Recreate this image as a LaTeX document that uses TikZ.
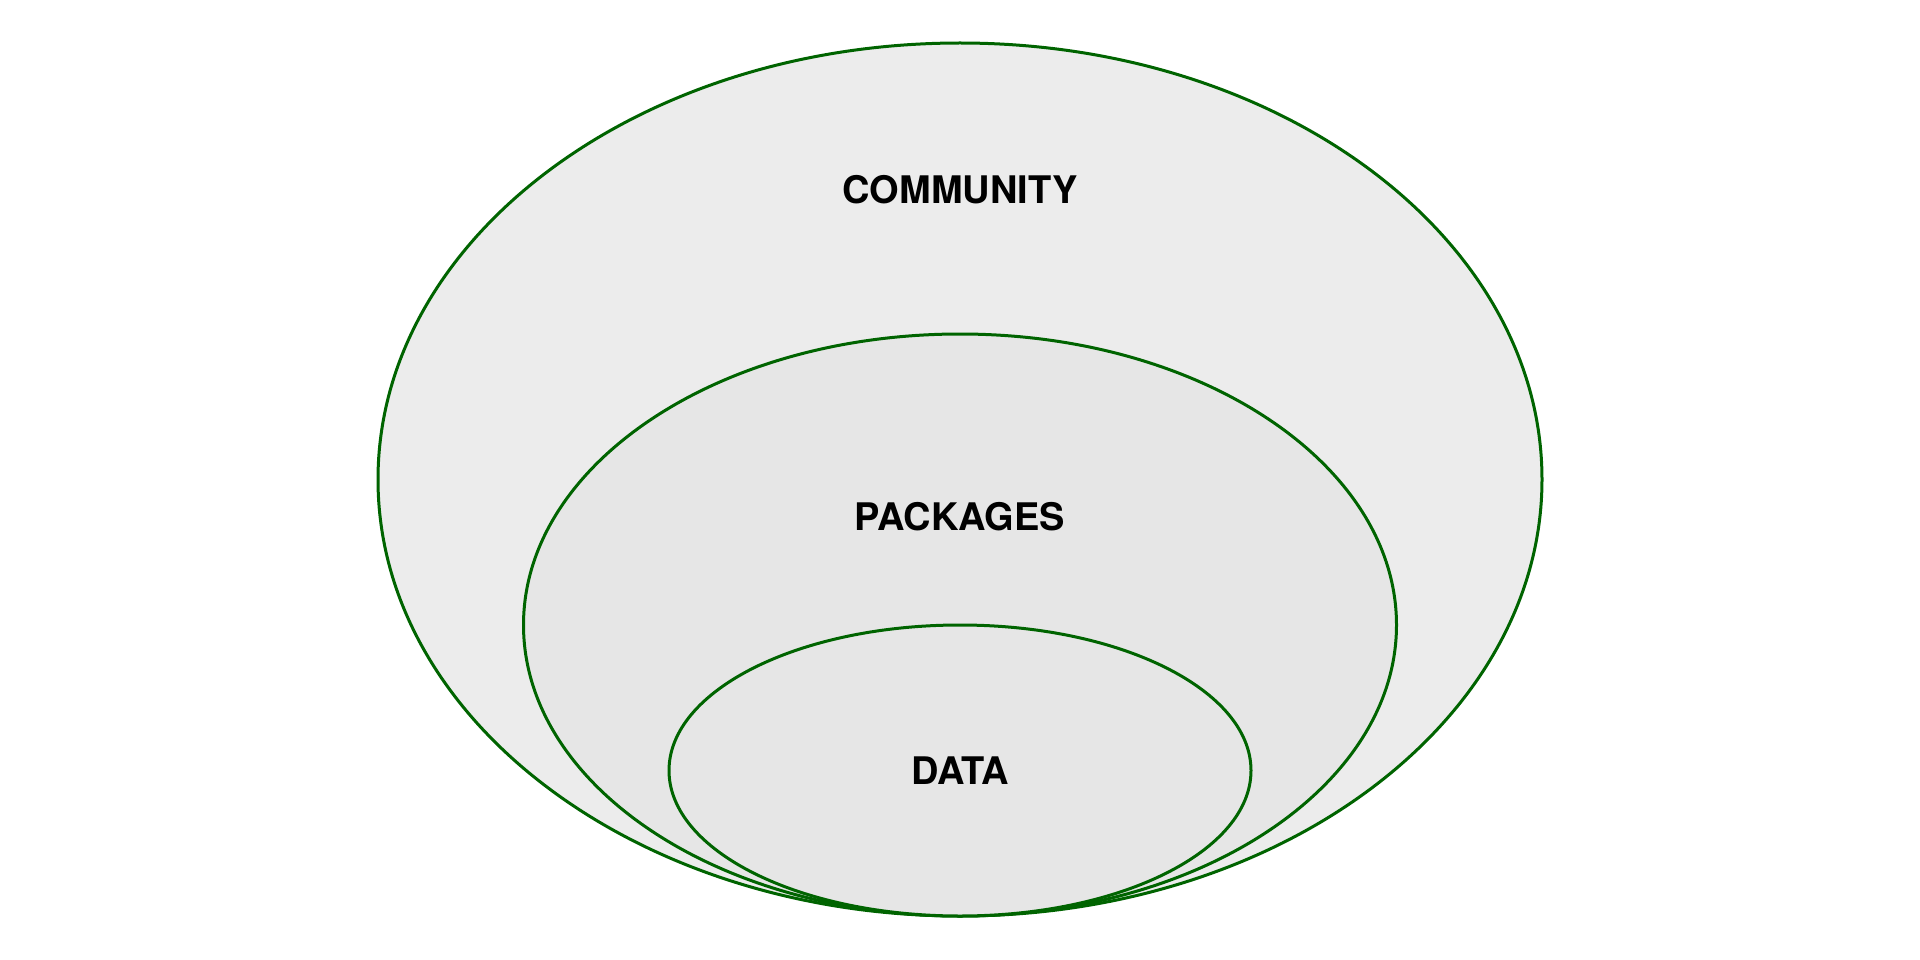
\documentclass[tikz,border=0pt]{standalone}
\usepackage{fontspec}
\setmainfont{TeX Gyre Heros}
\begin{document}
\begin{tikzpicture}[x=1pt,y=-1pt,
  ring/.style={line width=3pt},
  lbl/.style={font=\fontsize{38}{44}\selectfont\bfseries, text=black}]
\definecolor{ringgreen}{HTML}{006400}
\definecolor{fillA}{HTML}{ECECEC}
\definecolor{fillB}{HTML}{E6E6E6}
\useasboundingbox (0,0) rectangle (1920,960);
\fill[white] (0,0) rectangle (1920,960);
\draw[ring, draw=ringgreen, fill=fillA] (960,479.5) ellipse [x radius=582, y radius=436.5];
\draw[ring, draw=ringgreen, fill=fillB] (960,625) ellipse [x radius=436.5, y radius=291];
\draw[ring, draw=ringgreen, fill=fillB] (960,770.5) ellipse [x radius=291, y radius=145.5];
\node[lbl] (community) at (960,189.5) {COMMUNITY};
\node[lbl] (packages) at (960,516.5) {PACKAGES};
\node[lbl] (data) at (960,770.5) {DATA};
\end{tikzpicture}
\end{document}
